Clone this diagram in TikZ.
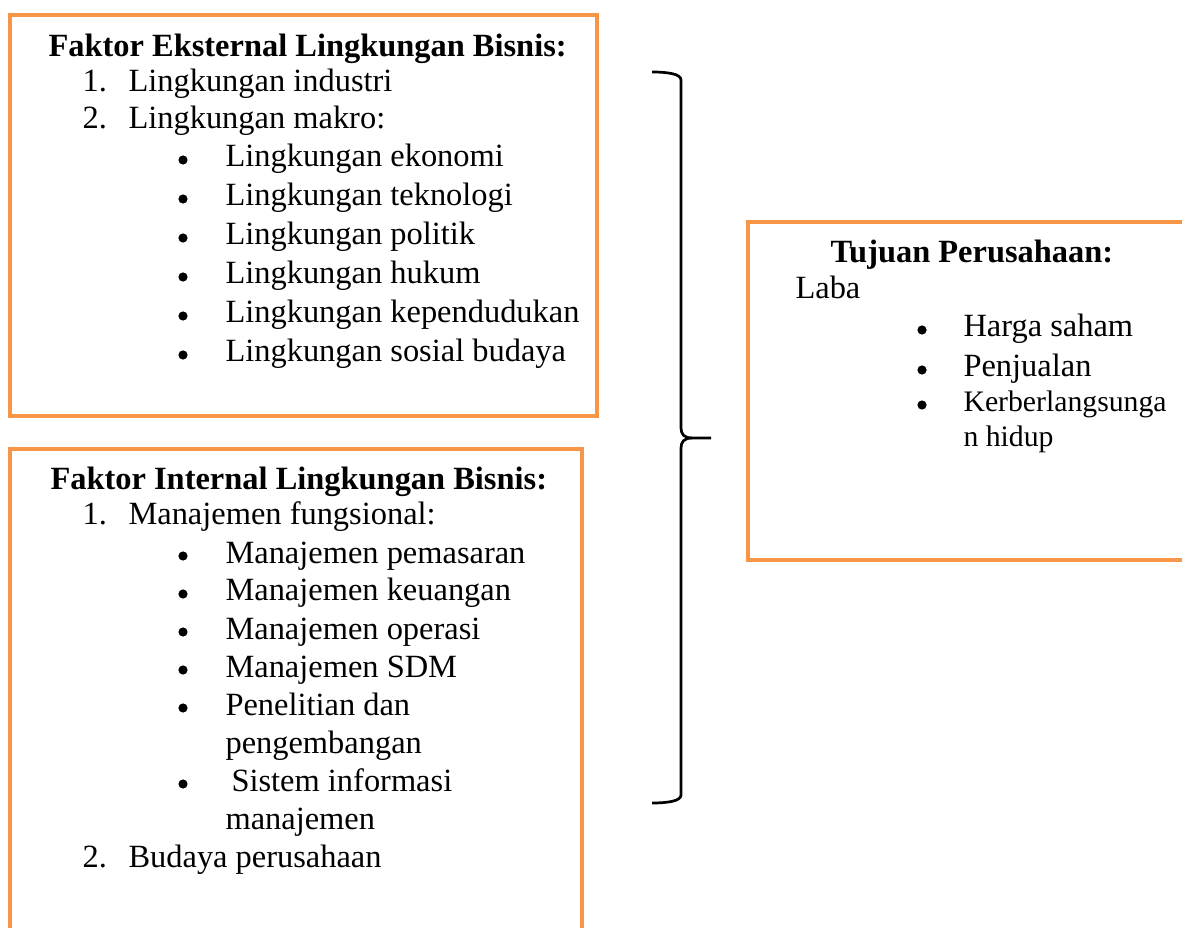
\documentclass[tikz,border=0pt]{standalone}
\usepackage{fontspec}
\setmainfont{Liberation Serif}
\definecolor{boxorange}{HTML}{F79646}
\begin{document}
\begin{tikzpicture}[x=0.37pt,y=-0.37pt]
\tikzstyle{panel} = [draw=boxorange, line width=1.5pt]
\tikzstyle{txt} = [anchor=base west, inner sep=0pt, font=\fontsize{12}{14}\selectfont]
\tikzstyle{smalltxt} = [txt, font=\fontsize{11}{13}\selectfont]
\tikzstyle{head} = [txt, font=\fontsize{12}{14}\selectfont\bfseries]
\tikzstyle{blt} = [circle, fill=black, inner sep=0pt, minimum size=3.4pt]
\tikzstyle{brace} = [draw=black, line width=1pt]
%
\useasboundingbox (0,0) rectangle (1182,928);
\clip (0,0) rectangle (1182,928);
% boxes
\draw[panel] (10,15) rectangle (597,416);
\draw[panel] (10,940) -- (10,449) -- (582,449) -- (582,940);
\draw[panel] (1190,222) -- (748,222) -- (748,560) -- (1190,560);
% external factors
\node[head] (ext) at (48,57) {Faktor Eksternal Lingkungan Bisnis:};
\node[txt] (e1n) at (82,92) {1.};
\node[txt] (e1) at (128,92) {Lingkungan industri};
\node[txt] (e2n) at (82,129) {2.};
\node[txt] (e2) at (128,129) {Lingkungan makro:};
\node[blt] (b1) at (183,160) {};
\node[txt] (m1) at (225,167) {Lingkungan ekonomi};
\node[blt] (b2) at (183,199) {};
\node[txt] (m2) at (225,206) {Lingkungan teknologi};
\node[blt] (b3) at (183,238) {};
\node[txt] (m3) at (225,245) {Lingkungan politik};
\node[blt] (b4) at (183,277) {};
\node[txt] (m4) at (225,284) {Lingkungan hukum};
\node[blt] (b5) at (183,316) {};
\node[txt] (m5) at (225,323) {Lingkungan kependudukan};
\node[blt] (b6) at (183,355) {};
\node[txt] (m6) at (225,362) {Lingkungan sosial budaya};
% internal factors
\node[head] (int) at (50,490) {Faktor Internal Lingkungan Bisnis:};
\node[txt] (i1n) at (82,525) {1.};
\node[txt] (i1) at (128,525) {Manajemen fungsional:};
\node[blt] (c1) at (183,556) {};
\node[txt] (f1) at (225,563) {Manajemen pemasaran};
\node[blt] (c2) at (183,594) {};
\node[txt] (f2) at (225,601) {Manajemen keuangan};
\node[blt] (c3) at (183,632) {};
\node[txt] (f3) at (225,639) {Manajemen operasi};
\node[blt] (c4) at (183,670) {};
\node[txt] (f4) at (225,677) {Manajemen SDM};
\node[blt] (c5) at (183,708) {};
\node[txt] (f5) at (225,715) {Penelitian dan};
\node[txt] (f5b) at (225,753) {pengembangan};
\node[blt] (c6) at (183,784) {};
\node[txt] (f6) at (231,791) {Sistem informasi};
\node[txt] (f6b) at (225,829) {manajemen};
\node[txt] (i2n) at (82,867) {2.};
\node[txt] (i2) at (128,867) {Budaya perusahaan};
% goals
\node[head] (goal) at (830,263) {Tujuan Perusahaan:};
\node[txt] (laba) at (795,299) {Laba};
\node[blt] (d1) at (922,330) {};
\node[txt] (g1) at (963,337) {Harga saham};
\node[blt] (d2) at (922,370) {};
\node[txt] (g2) at (963,377) {Penjualan};
\node[blt] (d3) at (922,405) {};
\node[smalltxt] (g3) at (963,412) {Kerberlangsunga};
\node[smalltxt] (g3b) at (963,447) {n hidup};
% brace
\draw[brace] (652,72) .. controls (668,72) and (681,74) .. (681,80) -- (681,428)
  .. controls (681,434) and (684,438) .. (692,438) -- (711,438);
\draw[brace] (692,438) .. controls (684,438) and (681,442) .. (681,448) -- (681,795)
  .. controls (681,801) and (668,803) .. (652,803);
\end{tikzpicture}
\end{document}
